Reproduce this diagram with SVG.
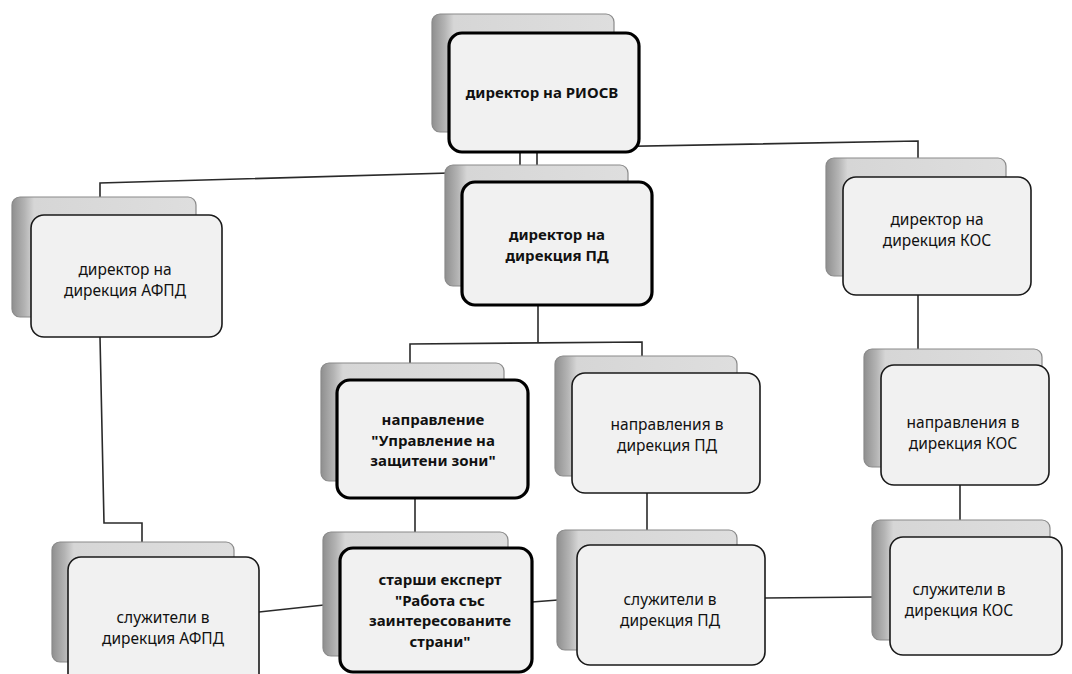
<svg xmlns="http://www.w3.org/2000/svg" width="1072" height="674" viewBox="0 0 1072 674">
<defs>
<linearGradient id="shg" x1="0" y1="0" x2="1" y2="0">
<stop offset="0" stop-color="#8f8f8f"/>
<stop offset="0.07" stop-color="#b4b4b4"/>
<stop offset="0.12" stop-color="#d6d6d6"/>
<stop offset="1" stop-color="#dedede"/>
</linearGradient>
<style>
.sh{fill:url(#shg);stroke:#8a8a8a;stroke-width:1.2}
.bx{fill:#f1f1f1;stroke:#1a1a1a;stroke-width:1.6}
.bx.b{stroke:#000;stroke-width:3.2}
.t{font-family:"Noto Sans","DejaVu Sans",sans-serif;font-size:15.5px;fill:#111;text-anchor:middle;dominant-baseline:central}
.t.b{font-weight:bold;font-size:15px}
.cn{fill:none;stroke:#2a2a2a;stroke-width:1.6}
</style>
</defs>
<rect width="1072" height="674" fill="#ffffff"/>
<g id="connectors">
<polyline class="cn" points="520,152 520,171 100,183 100,197"/>
<line class="cn" x1="537" y1="150" x2="537" y2="166"/>
<polyline class="cn" points="537,148 918,141 918,158"/>
<line class="cn" x1="538" y1="305" x2="538" y2="343"/>
<polyline class="cn" points="410,363 410,344 642,342 642,356"/>
<line class="cn" x1="415" y1="498" x2="415" y2="532"/>
<line class="cn" x1="647" y1="493" x2="647" y2="530"/>
<line class="cn" x1="918" y1="295" x2="918" y2="350"/>
<line class="cn" x1="960" y1="485" x2="960" y2="520"/>
<polyline class="cn" points="100,337 104,523 142,523 142,542"/>
<line class="cn" x1="259" y1="612" x2="324" y2="605"/>
<line class="cn" x1="532" y1="602" x2="558" y2="600"/>
<line class="cn" x1="765" y1="598" x2="873" y2="597"/>
</g>
<g id="n-riosv">
<rect class="sh" x="432" y="14" width="182" height="118" rx="8"/>
<rect class="bx b" x="449" y="33" width="190" height="119" rx="13"/>
<text class="t b" x="542" y="92">директор на РИОСВ</text>
</g>
<g id="n-afpd-dir">
<rect class="sh" x="12" y="197" width="184" height="120" rx="8"/>
<rect class="bx" x="31" y="215" width="191" height="122" rx="13"/>
<text class="t" x="125" y="269">директор на</text>
<text class="t" x="125" y="290">дирекция АФПД</text>
</g>
<g id="n-pd-dir">
<rect class="sh" x="445" y="165" width="183" height="121" rx="8"/>
<rect class="bx b" x="462" y="182" width="190" height="123" rx="13"/>
<text class="t b" x="557" y="234">директор на</text>
<text class="t b" x="557" y="255">дирекция ПД</text>
</g>
<g id="n-kos-dir">
<rect class="sh" x="826" y="158" width="180" height="118" rx="8"/>
<rect class="bx" x="843" y="177" width="188" height="118" rx="13"/>
<text class="t" x="937" y="219">директор на</text>
<text class="t" x="937" y="240">дирекция КОС</text>
</g>
<g id="n-uzz">
<rect class="sh" x="321" y="363" width="183" height="118" rx="8"/>
<rect class="bx b" x="337" y="380" width="191" height="118" rx="13"/>
<text class="t b" x="433" y="419">направление</text>
<text class="t b" x="433" y="439.5">"Управление на</text>
<text class="t b" x="433" y="460">защитени зони"</text>
</g>
<g id="n-pd-napr">
<rect class="sh" x="555" y="356" width="182" height="120" rx="8"/>
<rect class="bx" x="572" y="373" width="188" height="120" rx="13"/>
<text class="t" x="667" y="424">направления в</text>
<text class="t" x="667" y="445">дирекция ПД</text>
</g>
<g id="n-kos-napr">
<rect class="sh" x="864" y="349" width="178" height="118" rx="8"/>
<rect class="bx" x="881" y="365" width="168" height="120" rx="13"/>
<text class="t" x="963" y="422">направления в</text>
<text class="t" x="963" y="443">дирекция КОС</text>
</g>
<g id="n-expert">
<rect class="sh" x="323" y="532" width="185" height="124" rx="8"/>
<rect class="bx b" x="340" y="548" width="192" height="124" rx="13"/>
<text class="t b" x="440" y="579">старши експерт</text>
<text class="t b" x="440" y="599.5">"Работа със</text>
<text class="t b" x="440" y="620">заинтересованите</text>
<text class="t b" x="440" y="640.5">страни"</text>
</g>
<g id="n-afpd-sl">
<rect class="sh" x="52" y="542" width="182" height="120" rx="8"/>
<rect class="bx" x="68" y="557" width="191" height="130" rx="13"/>
<text class="t" x="163" y="617">служители в</text>
<text class="t" x="163" y="638">дирекция АФПД</text>
</g>
<g id="n-pd-sl">
<rect class="sh" x="557" y="530" width="180" height="120" rx="8"/>
<rect class="bx" x="577" y="545" width="188" height="120" rx="13"/>
<text class="t" x="670" y="599">служители в</text>
<text class="t" x="670" y="620">дирекция ПД</text>
</g>
<g id="n-kos-sl">
<rect class="sh" x="872" y="520" width="178" height="120" rx="8"/>
<rect class="bx" x="890" y="537" width="172" height="118" rx="13"/>
<text class="t" x="959" y="589">служители в</text>
<text class="t" x="959" y="610">дирекция КОС</text>
</g>
</svg>
